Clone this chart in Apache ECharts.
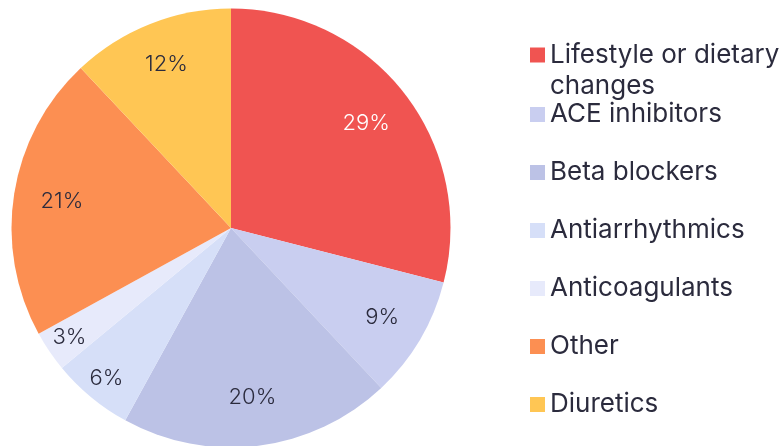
<!DOCTYPE html>
<html>
<head>
<meta charset="utf-8">
<script src="https://cdn.jsdelivr.net/npm/echarts@6/dist/echarts.min.js"></script>
<style>
html,body{margin:0;padding:0;background:#fff;}
#chart{width:779px;height:446px;}
</style>
</head>
<body>
<div id="chart"></div>
<script>
const categories = ['Lifestyle or dietary changes', 'ACE inhibitors', 'Beta blockers', 'Antiarrhythmics', 'Anticoagulants', 'Other', 'Diuretics'];
const values = [29, 9, 20, 6, 3, 21, 12];
const colors = ['#F05451', '#C9CEF0', '#BCC2E6', '#D6DFF8', '#E7EAFB', '#FC8F52', '#FFC654'];
const labelColors = ['#ffffff', '#2b2b3d', '#2b2b3d', '#2b2b3d', '#2b2b3d', '#2b2b3d', '#2b2b3d'];

const FONT = 'Inter';
const TEXT = '#2b2b3d';
const LH = 31;
const cx = 231, cy = 228, R = 219.5;
const total = values.reduce((a, b) => a + b, 0);

function labelPos(i) {
  let before = 0;
  for (let k = 0; k < i; k++) before += values[k];
  const frac = values[i] / total;
  const mid = (before + values[i] / 2) / total * 2 * Math.PI;
  const f = frac > 0.15 ? 0.78 : (frac > 0.07 ? 0.8 : 0.89);
  return { x: cx + f * R * Math.sin(mid), y: cy - f * R * Math.cos(mid) };
}

// wrap long legend names; keep the first line level with the marker
function wrapName(name) {
  if (name.length <= 20) return name;
  const cut = name.lastIndexOf(' ', 20);
  return '{e| }\n{a|' + name.slice(0, cut) + '}\n{a|' + name.slice(cut + 1) + '}';
}

const chart = echarts.init(document.getElementById('chart'), null, { renderer: 'canvas' });
chart.setOption({
  animation: false,
  color: colors,
  legend: [
    {
      orient: 'vertical', left: 530, top: 55 - 1.5 * LH, padding: 0,
      itemWidth: 15, itemHeight: 15, itemGap: 27,
      icon: 'rect',
      data: [categories[0]],
      formatter: wrapName,
      textStyle: {
        fontFamily: FONT, fontSize: 26, color: TEXT, lineHeight: LH,
        rich: {
          e: { fontFamily: FONT, fontSize: 26, lineHeight: LH, color: TEXT },
          a: { fontFamily: FONT, fontSize: 26, lineHeight: LH, color: TEXT }
        }
      }
    },
    {
      orient: 'vertical', left: 530, top: 99, padding: 0,
      itemWidth: 15, itemHeight: 15, itemGap: 27,
      icon: 'rect',
      data: categories.slice(1),
      textStyle: { fontFamily: FONT, fontSize: 26, color: TEXT, lineHeight: LH }
    }
  ],
  series: [{
    type: 'pie',
    center: [cx, cy],
    radius: R,
    startAngle: 90,
    clockwise: true,
    avoidLabelOverlap: false,
    itemStyle: { borderWidth: 0 },
    emphasis: { disabled: true },
    label: {
      show: true,
      position: 'inside',
      formatter: p => p.value + '%',
      fontFamily: FONT,
      fontSize: 22,
      fontWeight: 300
    },
    labelLine: { show: false },
    labelLayout: function (params) {
      const p = labelPos(params.dataIndex);
      return { x: p.x, y: p.y, align: 'center', verticalAlign: 'middle' };
    },
    data: categories.map((c, i) => ({
      name: c,
      value: values[i],
      label: { color: labelColors[i] }
    }))
  }]
});
</script>
</body>
</html>
